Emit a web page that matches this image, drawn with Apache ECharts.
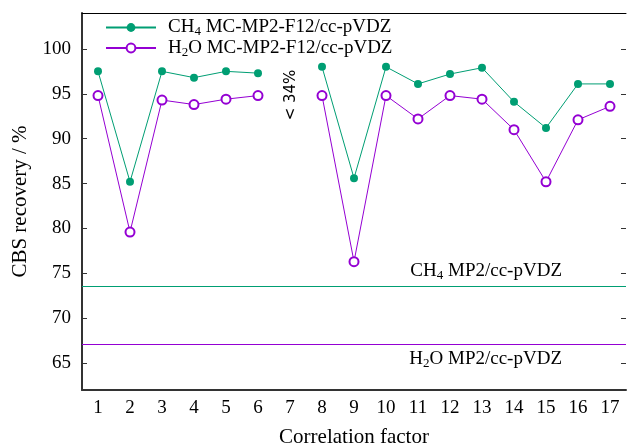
<!DOCTYPE html>
<html>
<head>
<meta charset="utf-8">
<script src="https://cdn.jsdelivr.net/npm/echarts@6/dist/echarts.min.js"></script>
<style>
  html, body { margin: 0; padding: 0; background: #fff; }
  #chart { width: 627px; height: 446px; }
</style>
</head>
<body>
<div id="chart"></div>
<script>
// data
var factors = ['1','2','3','4','5','6','7','8','9','10','11','12','13','14','15','16','17'];
var ch4Mc = [97.5, 85.2, 97.5, 96.8, 97.5, 97.3, null, 98.0, 85.6, 98.0, 96.1, 97.2, 97.9, 94.1, 91.2, 96.1, 96.1];
var h2oMc = [94.8, 79.6, 94.3, 93.8, 94.4, 94.8, null, 94.8, 76.3, 94.8, 92.2, 94.8, 94.4, 91.0, 85.2, 92.1, 93.6];
var ch4Mp2 = 73.6;
var h2oMp2 = 67.1;
var yTicks = [65, 70, 75, 80, 85, 90, 95, 100];

var serif = 'Liberation Serif';
var green = '#009e73';
var purple = '#9400d3';
var axisGray = '#333';

var rich = {
  n: { fontFamily: serif, fontSize: 19, color: '#000' },
  s: { fontFamily: serif, fontSize: 13, color: '#000', padding: [9, 0, 0, 0] }
};

var myChart = echarts.init(document.getElementById('chart'));

var option = {
  animation: false,
  backgroundColor: '#fff',
  textStyle: { fontFamily: serif },
  grid: { left: 82, right: 1, top: 13, bottom: 56, outerBoundsMode: 'none', containLabel: false },
  legend: {
    orient: 'vertical',
    left: 100,
    top: 13,
    itemWidth: 50,
    itemHeight: 11,
    itemGap: 0,
    textStyle: { fontFamily: serif, rich: rich, padding: [0, 0, 0, 7] },
    data: ['CH4 MC-MP2-F12/cc-pVDZ', 'H2O MC-MP2-F12/cc-pVDZ'],
    formatter: function (name) {
      if (name.indexOf('CH4') === 0) return '{n|CH}{s|4}{n| MC-MP2-F12/cc-pVDZ}';
      return '{n|H}{s|2}{n|O MC-MP2-F12/cc-pVDZ}';
    }
  },
  xAxis: [{
    type: 'category',
    data: factors,
    boundaryGap: true,
    name: 'Correlation factor',
    nameLocation: 'middle',
    nameGap: 37,
    nameTextStyle: { fontFamily: serif, fontSize: 21, color: '#000' },
    axisLine: { lineStyle: { color: axisGray, width: 2 } },
    axisTick: { inside: true, length: 5, alignWithLabel: true, lineStyle: { color: axisGray } },
    axisLabel: { interval: 0, margin: 9, fontFamily: serif, fontSize: 19, color: '#000' },
    splitLine: { show: false }
  }, {
    type: 'category',
    data: factors,
    position: 'top',
    boundaryGap: true,
    axisLine: { lineStyle: { color: '#000', width: 1 } },
    axisTick: { inside: true, length: 5, alignWithLabel: true, lineStyle: { color: axisGray } },
    axisLabel: { show: false },
    splitLine: { show: false }
  }],
  yAxis: [{
    type: 'value',
    min: 62,
    max: 104,
    name: 'CBS recovery / %',
    nameLocation: 'middle',
    nameGap: 51,
    nameTextStyle: { fontFamily: serif, fontSize: 21, color: '#000' },
    axisLine: { show: true, lineStyle: { color: axisGray, width: 2 } },
    axisTick: { show: true, inside: true, length: 5, customValues: yTicks, lineStyle: { color: axisGray } },
    axisLabel: { margin: 11, customValues: yTicks, fontFamily: serif, fontSize: 19, color: '#000' },
    splitLine: { show: false }
  }, {
    type: 'value',
    min: 62,
    max: 104,
    position: 'right',
    axisLine: { show: false },
    axisTick: { show: true, inside: true, length: 5, customValues: yTicks, lineStyle: { color: axisGray } },
    axisLabel: { show: false },
    splitLine: { show: false }
  }],
  series: [{
    name: 'CH4 MC-MP2-F12/cc-pVDZ',
    type: 'line',
    data: ch4Mc,
    symbol: 'circle',
    symbolSize: 8,
    itemStyle: { color: green },
    lineStyle: { color: green, width: 1 },
    markLine: {
      silent: true,
      symbol: 'none',
      lineStyle: { color: green, width: 1, type: 'solid' },
      label: {
        position: 'insideEndTop',
        distance: [64, 4],
        formatter: '{n|CH}{s|4}{n| MP2/cc-pVDZ}',
        rich: rich
      },
      data: [{ yAxis: ch4Mp2, lineStyle: { color: green } }]
    }
  }, {
    name: 'H2O MC-MP2-F12/cc-pVDZ',
    type: 'line',
    data: h2oMc,
    symbol: 'emptyCircle',
    symbolSize: 9,
    itemStyle: { color: purple, borderWidth: 1 },
    lineStyle: { color: purple, width: 1 },
    markLine: {
      silent: true,
      symbol: 'none',
      lineStyle: { color: purple, width: 1, type: 'solid' },
      label: {
        position: 'insideEndBottom',
        distance: [64, 4],
        formatter: '{n|H}{s|2}{n|O MP2/cc-pVDZ}',
        rich: rich
      },
      data: [{ yAxis: h2oMp2, lineStyle: { color: purple } }]
    }
  }],
  graphic: [{
    type: 'text',
    x: 291,
    y: 95,
    rotation: Math.PI / 2,
    style: {
      text: '< 34%',
      fontFamily: 'DejaVu Sans',
      fontSize: 15,
      fill: '#000',
      align: 'center',
      verticalAlign: 'middle'
    }
  }]
};

myChart.setOption(option);
</script>
</body>
</html>
